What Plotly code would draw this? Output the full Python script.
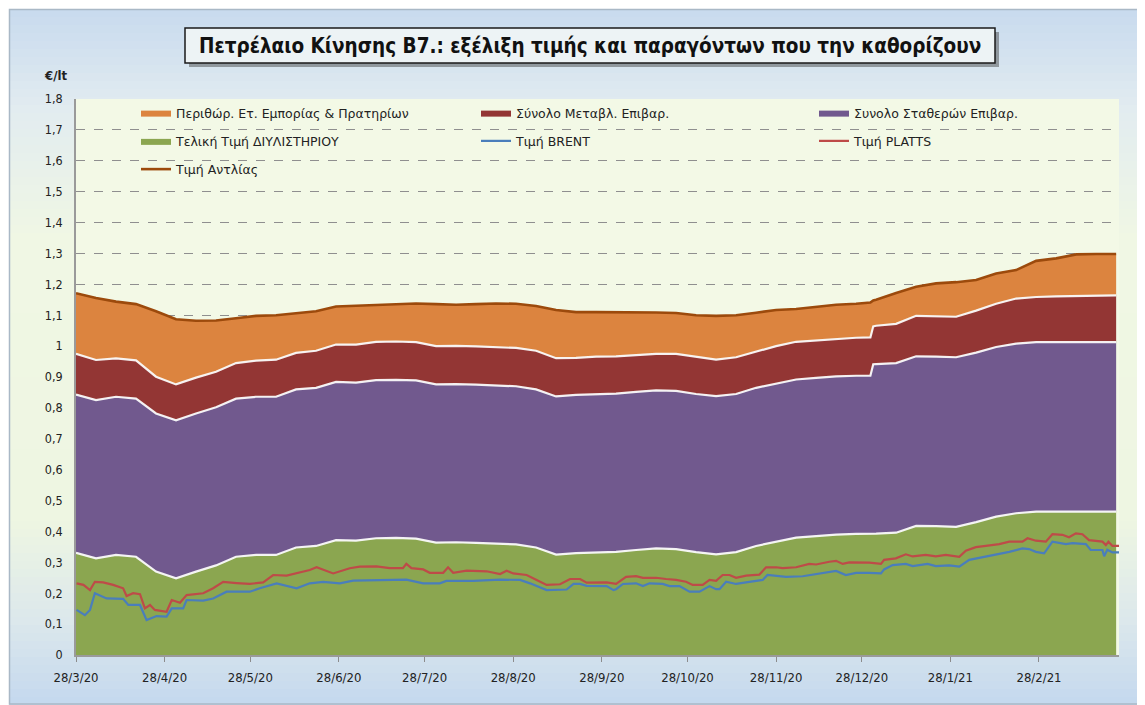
import plotly.graph_objects as go
import pandas as pd

# ---------------- DATA ----------------
BASE_DATE = "2020-03-28"

# day offsets (from 28/3/20) of the stacked-area samples
stack_days = [0, 7, 14, 21, 28, 35, 42, 49, 56, 63, 70, 77, 84, 91, 98, 105, 112, 119,
              126, 133, 140, 147, 154, 161, 168, 175, 182, 189, 196, 203, 210, 217, 224,
              231, 238, 245, 252, 259, 266, 273, 278, 279, 280, 287, 294, 301, 308, 315,
              322, 329, 336, 343, 350, 357, 364]

# Τελική Τιμή ΔΙΥΛΙΣΤΗΡΙΟΥ (€/lt)
refinery = [0.331, 0.313, 0.324, 0.318, 0.270, 0.248, 0.270, 0.290, 0.318, 0.324,
            0.324, 0.348, 0.353, 0.372, 0.370, 0.378, 0.379, 0.377, 0.364, 0.365,
            0.363, 0.360, 0.358, 0.348, 0.325, 0.330, 0.333, 0.334, 0.340, 0.345,
            0.343, 0.333, 0.326, 0.333, 0.353, 0.367, 0.380, 0.385, 0.390, 0.392,
            0.392, 0.392, 0.393,
            0.396, 0.418, 0.417, 0.415, 0.430, 0.448, 0.459, 0.464, 0.464, 0.464, 0.464, 0.464]

# Συνολο Σταθερών Επιβαρ.
fixed_tax = [0.512] * 41 + [0.549] * 14

# Σύνολο Μεταβλ. Επιβαρ.
var_tax = [0.132, 0.130, 0.124, 0.124, 0.119, 0.116, 0.116, 0.115, 0.115, 0.117,
           0.120, 0.118, 0.120, 0.121, 0.123, 0.124, 0.124, 0.124, 0.124, 0.124,
           0.124, 0.125, 0.124, 0.125, 0.124, 0.120, 0.121, 0.121, 0.120, 0.118,
           0.120, 0.120, 0.118, 0.119, 0.118, 0.121, 0.122, 0.121, 0.122, 0.123,
           0.124, 0.123, 0.124,
           0.127, 0.131, 0.131, 0.131, 0.136, 0.140, 0.146, 0.146, 0.148, 0.149, 0.150, 0.151]

# Περιθώρ. Ετ. Εμπορίας & Πρατηρίων
margin = [0.196, 0.201, 0.184, 0.182, 0.212, 0.211, 0.184, 0.166, 0.145, 0.145,
          0.144, 0.128, 0.128, 0.123, 0.126, 0.119, 0.120, 0.125, 0.136, 0.133,
          0.137, 0.141, 0.143, 0.145, 0.156, 0.148, 0.144, 0.143, 0.137, 0.134,
          0.132, 0.135, 0.142, 0.136, 0.125, 0.117, 0.106, 0.110, 0.110, 0.110,
          0.113, 0.084, 0.084,
          0.100, 0.094, 0.106, 0.112, 0.099, 0.098, 0.092, 0.117, 0.123, 0.135, 0.135, 0.134]

# Τιμή PLATTS
platts_days = [0.2, 2.6, 4.9, 6.6, 9.5, 13, 16.5, 17.7, 20, 22.4, 24.1, 25.9, 27.6, 31.7,
               33.5, 36.4, 38.7, 44.5, 48, 51.5, 56.2, 60.8, 65.5, 69, 73.7, 77.2, 81.8,
               84.2, 90, 95.8, 99.3, 105.1, 109.8, 114.4, 115.6, 117.4, 121.5, 123.8,
               128.5, 130.2, 132, 136.7, 143.7, 148.4, 150.7, 153, 157.7, 161.2, 164.7,
               169.4, 172.9, 176.4, 178.7, 185.7, 189, 192.5, 196, 198.4, 203, 206.5,
               210, 213.5, 215.8, 219.3, 221.7, 224, 226.3, 228.7, 231, 234.5, 239.1,
               241.5, 245, 247.3, 252, 256.6, 259, 263.6, 266, 268.3, 270.6, 277.6,
               281.7, 282.8, 286.9, 290.4, 292.8, 297.4, 300.9, 304.4, 309.1, 311.4,
               314.9, 318.4, 323.1, 326.6, 331.2, 333, 335.9, 339.4, 341.7, 345.2,
               347.5, 349.9, 352.2, 354.5, 359.2, 360.4, 361.3, 362.7, 365]
platts = [0.232, 0.227, 0.210, 0.237, 0.235, 0.227, 0.216, 0.191, 0.200, 0.197, 0.151,
          0.162, 0.146, 0.140, 0.178, 0.169, 0.194, 0.200, 0.216, 0.237, 0.233, 0.230,
          0.235, 0.259, 0.257, 0.264, 0.275, 0.284, 0.264, 0.281, 0.286, 0.287, 0.281,
          0.281, 0.295, 0.281, 0.277, 0.266, 0.266, 0.284, 0.266, 0.273, 0.271, 0.262,
          0.273, 0.264, 0.259, 0.243, 0.227, 0.229, 0.246, 0.246, 0.234, 0.235, 0.230,
          0.253, 0.255, 0.250, 0.250, 0.246, 0.243, 0.237, 0.227, 0.227, 0.243, 0.240,
          0.259, 0.259, 0.250, 0.257, 0.260, 0.284, 0.284, 0.281, 0.284, 0.295, 0.293,
          0.302, 0.305, 0.295, 0.300, 0.299, 0.295, 0.308, 0.313, 0.326, 0.319, 0.324,
          0.319, 0.324, 0.318, 0.338, 0.349, 0.353, 0.359, 0.367, 0.367, 0.378, 0.370,
          0.367, 0.391, 0.389, 0.381, 0.394, 0.391, 0.372, 0.367, 0.356, 0.367, 0.353,
          0.353]

# Τιμή BRENT
brent_days = [0.2, 3.1, 4.9, 6.6, 10.7, 16.5, 18.3, 22.4, 24.7, 28.2, 31.7, 33.5, 37.5,
              38.7, 44.5, 48, 52.7, 60.8, 64.3, 70.2, 77.2, 81.8, 86.5, 90, 92.3, 97,
              104, 115.6, 121.5, 127.3, 129.6, 139, 148.4, 155.4, 158.9, 163.5, 164.7,
              171.7, 174.1, 176.4, 178.7, 185.7, 188.1, 189, 191.4, 196, 198.4, 200.7,
              205.3, 207.7, 211.2, 214.7, 218.2, 221.7, 224, 225.2, 227.5, 231, 235.6,
              240.3, 242, 248.5, 254.3, 259, 266, 269.4, 273, 277.6, 281.7, 282.8,
              285.8, 290.4, 292.8, 298, 300.9, 305.6, 309.1, 312.6, 317.2, 321.9,
              326.6, 331.2, 333.5, 335.9, 338.8, 341.7, 346.4, 348.7, 353.4, 355.1,
              359.2, 359.8, 360.9, 362.7, 365]
brent = [0.146, 0.129, 0.146, 0.200, 0.183, 0.182, 0.162, 0.162, 0.113, 0.126, 0.124,
         0.151, 0.151, 0.178, 0.176, 0.183, 0.205, 0.205, 0.216, 0.232, 0.216, 0.232,
         0.237, 0.235, 0.232, 0.241, 0.243, 0.244, 0.232, 0.232, 0.240, 0.240, 0.244,
         0.243, 0.232, 0.216, 0.210, 0.212, 0.230, 0.230, 0.224, 0.223, 0.210, 0.213,
         0.230, 0.232, 0.223, 0.232, 0.230, 0.223, 0.223, 0.205, 0.205, 0.223, 0.213,
         0.213, 0.237, 0.230, 0.237, 0.243, 0.259, 0.253, 0.255, 0.262, 0.272, 0.259,
         0.266, 0.266, 0.264, 0.277, 0.291, 0.295, 0.288, 0.295, 0.288, 0.290, 0.286,
         0.308, 0.316, 0.326, 0.334, 0.345, 0.343, 0.334, 0.329, 0.367, 0.359, 0.362,
         0.359, 0.340, 0.340, 0.320, 0.341, 0.332, 0.332]

x_tick_labels = ["28/3/20", "28/4/20", "28/5/20", "28/6/20", "28/7/20", "28/8/20",
                 "28/9/20", "28/10/20", "28/11/20", "28/12/20", "28/1/21", "28/2/21"]
y_tick_labels = ["0", "0,1", "0,2", "0,3", "0,4", "0,5", "0,6", "0,7", "0,8", "0,9", "1",
                 "1,1", "1,2", "1,3", "1,4", "1,5", "1,6", "1,7", "1,8"]

names = {
    "margin": "Περιθώρ. Ετ. Εμπορίας & Πρατηρίων",
    "var": "Σύνολο Μεταβλ. Επιβαρ.",
    "fixed": "Συνολο Σταθερών Επιβαρ.",
    "refinery": "Τελική Τιμή ΔΙΥΛΙΣΤΗΡΙΟΥ",
    "brent": "Τιμή BRENT",
    "platts": "Τιμή PLATTS",
    "pump": "Τιμή Αντλίας",
}
title_text = "Πετρέλαιο Κίνησης Β7.: εξέλιξη τιμής και παραγόντων που την καθορίζουν"

# ---------------- DERIVED ----------------
base = pd.Timestamp(BASE_DATE)
to_dates = lambda days: [base + pd.Timedelta(days=d) for d in days]
sdates = to_dates(stack_days)
lvl1 = [a for a in refinery]
lvl2 = [a + b for a, b in zip(lvl1, fixed_tax)]
lvl3 = [a + b for a, b in zip(lvl2, var_tax)]
pump = [a + b for a, b in zip(lvl3, margin)]
x_tick_vals = [pd.to_datetime(s, format="%d/%m/%y") for s in x_tick_labels]
y_tick_vals = [float(s.replace(",", ".")) for s in y_tick_labels]

# ---------------- STYLE ----------------
OFF = 8                      # page body margin
W, H = 1145 - OFF, 705 - OFF
ML, MR, MT, MB = 76 - OFF, 26, 99 - OFF, 50
PW, PH = W - ML - MR, H - MT - MB
fx = lambda px: (px - OFF - ML) / PW      # page pixel -> paper coordinate
fy = lambda py: (H - MB - (py - OFF)) / PH

GREEN, PURPLE, RED, ORANGE = "#8BA650", "#71598E", "#933634", "#DC843F"
BLUE_L, RED_L, BROWN_L = "#4A7EBB", "#BE4B48", "#9C4A0C"
WHITE_L = "rgba(250,250,250,0.95)"
FONT = "DejaVu Sans Condensed, DejaVu Sans, sans-serif"
LFONT = "DejaVu Sans, Verdana, sans-serif"

fig = go.Figure()

def area(y, color, name, legend, rank):
    fig.add_trace(go.Scatter(x=sdates, y=y, stackgroup="one", mode="lines",
                             line=dict(width=0, color=color), fillcolor=color,
                             name=name, legend=legend, legendrank=rank,
                             legendgroup=name, hoverinfo="skip"))

area(refinery, GREEN, names["refinery"], "legend", 2)
area(fixed_tax, PURPLE, names["fixed"], "legend3", 1)
area(var_tax, RED, names["var"], "legend2", 1)
area(margin, ORANGE, names["margin"], "legend", 1)

for lv in (lvl1, lvl2, lvl3):
    fig.add_trace(go.Scatter(x=sdates, y=lv, mode="lines", showlegend=False,
                             line=dict(color=WHITE_L, width=2.2), hoverinfo="skip"))

fig.add_trace(go.Scatter(x=to_dates(brent_days), y=brent, mode="lines",
                         line=dict(color=BLUE_L, width=2.2), name=names["brent"],
                         legend="legend2", legendrank=2, legendgroup="b"))
fig.add_trace(go.Scatter(x=to_dates(platts_days), y=platts, mode="lines",
                         line=dict(color=RED_L, width=2.2), name=names["platts"],
                         legend="legend3", legendrank=2, legendgroup="p"))
fig.add_trace(go.Scatter(x=sdates, y=pump, mode="lines",
                         line=dict(color=BROWN_L, width=2.6), name=names["pump"],
                         legend="legend", legendrank=3, legendgroup="pump"))

# ---------- background gradient bands ----------
stops = [(9, (200, 218, 238)), (110, (226, 236, 240)), (240, (240, 247, 228)),
         (520, (238, 246, 226)), (620, (220, 232, 236)), (705, (196, 216, 238))]
def col_at(py):
    for (y0, c0), (y1, c1) in zip(stops[:-1], stops[1:]):
        if y0 <= py <= y1:
            t = (py - y0) / (y1 - y0)
            return "rgb(%d,%d,%d)" % tuple(round(a + (b - a) * t) for a, b in zip(c0, c1))
    return "rgb(%d,%d,%d)" % stops[-1][1]

shapes = []
step = 8
for py in range(9, 705, step):
    shapes.append(dict(type="rect", xref="paper", yref="paper", layer="below",
                       x0=fx(9), x1=fx(1145), y0=fy(py), y1=fy(min(py + step + 1, 705)),
                       line=dict(width=0), fillcolor=col_at(py + step / 2)))
# chart frame
shapes.append(dict(type="rect", xref="paper", yref="paper", layer="below",
                   x0=fx(9.5), x1=fx(1144), y0=fy(9.5), y1=fy(704),
                   line=dict(color="#A9B8C6", width=1.5), fillcolor="rgba(0,0,0,0)"))
# plot area background
shapes.append(dict(type="rect", xref="paper", yref="paper", layer="below",
                   x0=0, x1=1, y0=0, y1=1, line=dict(width=0), fillcolor="#F3F9E6"))
# title box shadow + box
shapes.append(dict(type="rect", xref="paper", yref="paper", layer="below",
                   x0=fx(189), x1=fx(999), y0=fy(67), y1=fy(32),
                   line=dict(width=0), fillcolor="rgba(60,60,60,0.45)"))
shapes.append(dict(type="rect", xref="paper", yref="paper", layer="below",
                   x0=fx(185), x1=fx(995), y0=fy(63), y1=fy(28),
                   line=dict(color="#1a1a1a", width=1.5), fillcolor="#EDF3F5"))

annotations = [
    dict(text="<b>" + title_text + "</b>", xref="paper", yref="paper", x=fx(590), y=fy(45.5),
         xanchor="center", yanchor="middle", showarrow=False,
         font=dict(family="DejaVu Sans Condensed, sans-serif", size=20.5, color="#111111")),
    dict(text="<b>€/lt</b>", xref="paper", yref="paper", x=fx(42), y=fy(75),
         xanchor="left", yanchor="middle", showarrow=False,
         font=dict(family=FONT, size=13, color="#222222")),
]

leg_common = dict(orientation="v", xanchor="left", yanchor="top", bgcolor="rgba(0,0,0,0)",
                  borderwidth=0, traceorder="grouped", tracegroupgap=9,
                  font=dict(family=LFONT, size=12.5, color="#222222"))

fig.update_layout(
    width=W, height=H,
    margin=dict(l=ML, r=MR, t=MT, b=MB, pad=0),
    paper_bgcolor="white", plot_bgcolor="rgba(0,0,0,0)",
    shapes=shapes, annotations=annotations,
    legend=dict(x=fx(136), y=fy(98), **leg_common),
    legend2=dict(x=fx(476), y=fy(98), **leg_common),
    legend3=dict(x=fx(814), y=fy(98), **leg_common),
    hovermode=False,
    xaxis=dict(type="date", range=[base, base + pd.Timedelta(days=365)],
               tickvals=x_tick_vals, ticktext=x_tick_labels, ticks="outside",
               ticklen=5, tickcolor="#8c8c8c", ticklabelstandoff=5,
               showline=True, linecolor="#9a9a9a",
               linewidth=1.5, showgrid=False, zeroline=False,
               tickfont=dict(family=FONT, size=13, color="#222222")),
    yaxis=dict(range=[0, 1.8], tickvals=y_tick_vals, ticktext=y_tick_labels,
               ticks="outside", ticklen=9, tickcolor="rgba(0,0,0,0)",
               showline=True, linecolor="#9a9a9a", linewidth=1.5,
               showgrid=True, gridcolor="#8f8f8f", griddash="dash", gridwidth=1,
               zeroline=False, tickfont=dict(family=FONT, size=12.5, color="#222222")),
)

fig.write_html("out.html")
